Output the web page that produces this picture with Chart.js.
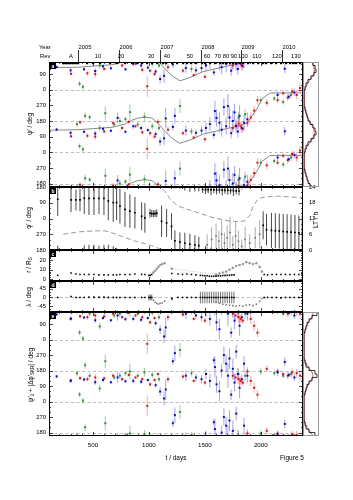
<!DOCTYPE html>
<html><head><meta charset="utf-8">
<script src="https://cdn.jsdelivr.net/npm/chart.js@4.4.1/dist/chart.umd.min.js"></script>
<style>
html,body{margin:0;padding:0;background:#fff}
#wrap{position:relative;width:353px;height:500px;overflow:hidden}
#wrap canvas{position:absolute;left:0;top:0}
</style></head><body>
<div id="wrap">
<canvas id="cA" width="353" height="500"></canvas>
<canvas id="cB" width="353" height="500"></canvas>
<canvas id="cC" width="353" height="500"></canvas>
<canvas id="cD" width="353" height="500"></canvas>
<canvas id="cE" width="353" height="500"></canvas>
<canvas id="cHA" width="353" height="500"></canvas>
<canvas id="cHE" width="353" height="500"></canvas>
</div>
<script>
// ---- data (t in days) ----
const yearDays = [366, 731, 1096, 1461, 1827, 2192];
const yearLbls = ['2005', '2006', '2007', '2008', '2009', '2010'];
const revDays = [304, 545, 750, 1018, 1161, 1366, 1518, 1616, 1688, 1759, 1839, 1964, 2143, 2313];
const revLbls = ['A', '10', '20', '30', '40', '50', '60', '70', '80', '90', '100', '110', '120', '130'];
const orbitDays = [232,245,258,272,285,298,312,325,340,355,370,444,503,562,652,711,785,845,890,934,979,1024,1068,1127,1157,1202,1247,1306,1336,1380,1425,1470,1499,1544,1588,1633,1662,1693,1722,1752,1782,1811,1841,1885,1930,1975,2019,2050,2094,2139,2183,2228,2257,2287,2317,2347];

// panel a / e : blue, red, green events
const tB = [175,300,420,520,590,660,720,790,860,930,990,1060,1100,1135,1150,1214,1232,1330,1420,1470,1510,1545,1580,1590,1604,1630,1650,1670,1690,1706,1720,1735,1750,1765,1780,1795,1810,1830,1850,1880,2150,2214,2250,2300];
const aB = [131,112,118,108,135,124,198,118,150,140,128,105,62,80,195,146,210,125,112,125,140,162,100,237,198,170,130,260,150,266,200,110,180,230,150,120,210,140,170,190,330,121,320,345];
const errB = [10,12,10,15,12,8,30,10,15,12,10,15,25,40,60,20,45,30,20,25,30,40,20,60,50,60,40,50,50,70,60,30,60,50,40,35,60,30,45,40,20,25,15,20];
const eB = [146,120,128,112,125,112,140,118,120,115,125,95,58,18,70,234,281,150,140,130,160,120,240,200,100,60,180,270,220,150,250,40,190,110,290,160,80,130,220,150,170,230,155,140];

const tR = [304,384,450,520,600,680,760,820,880,940,985,1010,1050,1080,1170,1304,1400,1500,1750,1775,1800,1820,1840,1880,1910,1940,1970,2053,2150,2200,2240,2280,2320,2350];
const aR = [92,173,95,90,120,168,140,175,150,115,20,110,90,175,130,110,85,75,140,155,165,150,135,170,200,240,300,285,300,340,315,350,330,370];
const errR = [10,12,15,20,10,15,12,10,10,15,60,15,10,15,20,15,10,15,25,25,30,25,20,25,30,30,25,20,15,15,20,20,25,30];
const eR = [123,135,130,140,135,150,130,155,140,130,335,100,125,160,130,145,120,110,150,140,130,120,110,175,120,80,40,190,175,160,150,170,165,150];

const tG = [357,380,410,430,470,560,610,690,740,790,830,900,960,1030,1090,1277,1380,1800,1860,2000,2120,2200,2270];
const aG = [162,35,17,210,202,140,225,160,180,191,231,160,205,150,140,266,120,200,220,300,310,290,330];
const errG = [15,15,15,20,15,20,40,15,20,15,45,15,25,20,15,40,20,30,30,20,15,15,20];
const eG = [164,41,6,211,150,76,234,140,150,165,175,150,170,155,130,300,165,160,150,175,165,150,160];

const modelT = [107,366,670,786,848,902,964,1027,1080,1143,1205,1277,1366,1482,1786,1875,1964,2009,2080,2200,2377];
const modelPsi = [127,130,144,162,185,197,202,197,168,121,81,52,70,104,150,168,249,306,341,342,342];

// panel b : phase phi' and local time
const phiT = [185,304,348,384,422,464,509,554,598,637,681,711,741,786,830,875,935,964,1010,1025,1040,1055,1070,1113,1158,1202,1232,1277,1321,1366,1411,1446,1480,1505,1530,1555,1580,1605,1630,1655,1680,1705,1730,1755,1780,1805,2021,2051,2095,2130,2165,2200,2235,2270,2305,2340,2370];
const phiV = [110,106,106,106,116,115,115,115,115,100,91,91,71,52,42,33,13,4,30,28,27,28,30,-16,-25,-45,-128,-135,-141,-147,-151,-155,166,165,165,164,164,163,163,162,161,161,160,159,158,157,-39,-64,-68,-70,-72,-74,-76,-78,-80,-82,-83];
const phiE = [95,70,60,65,90,95,95,90,95,110,110,100,100,100,95,90,80,85,25,20,20,20,22,90,80,75,60,55,60,60,55,50,20,25,20,30,20,25,20,30,20,25,20,30,20,25,80,90,100,100,100,100,100,100,100,100,100];
const phi2T = [1520,1560,1600,1625,1650,1675,1700,1725,1750,1775,1800,1830,1860,1900,1950,1990];
const phi2V = [-150,-120,-100,-130,-90,-140,-110,-80,-150,-100,-130,-160,-120,-140,-110,-90];
const phi2E = [60,70,70,60,80,60,70,90,50,80,60,40,70,50,60,80];
const ltT = [235,369,518,607,667,756,875,964,1054,1098,1143,1202,1262,1411,1560,1708,1798,1857,1902,1931,1976,2036,2155,2274,2377];
const ltH = [6.0,6.9,7.3,7.3,6.6,5.2,3.4,2.4,1.3,0.3,-1.7,-5.2,-7.3,-9.4,-11.5,-12.9,-13.2,-12.9,-10.8,-7.3,-4.5,-3.8,-3.5,-3.8,-4.2];

// panels c / d : r and latitude
const mT = [185,304,348,384,422,464,509,554,598,637,681,711,741,786,830,875,935,964,1000,1012,1025,1205,1260,1300,1340,1380,1420,1460,1480,1500,1520,1540,1560,1580,1600,1620,1640,1660,1680,1700,1720,1740,1760,2030,2060,2100,2140,2180,2220,2260,2300,2340,2370];
const mR = [4,6.5,5.5,5,5,5,5,4.5,4.5,4.5,4.5,4.5,5,5,5,5.5,5,5,4,4,5,6,5.5,5,5.5,5,4.5,4,3.8,3.5,3.5,3.2,3,3,3.2,3.5,3.5,3.8,4,4,4.2,4.5,4.5,5,4.5,5,5,5,5,5,5,5,5];
const mLat = [0,5,0,0,0,1,1,1,1,0,0,0,0,0,0,0,0,0,0,0,0,-5,0,0,0,0,0,0,0,0,0,0,0,0,0,0,0,0,0,0,0,0,0,0,0,0,0,-2,0,0,0,0,0];
const mLatE = [3,3,3,3,3,6,6,6,6,6,4,3,3,3,3,3,3,3,15,15,15,5,3,3,3,3,3,30,30,30,30,30,30,30,30,30,30,30,30,30,30,30,30,3,3,3,3,3,3,3,3,3,3];
const xT = [1040,1055,1070,1085,1100,1120,1140,1205,1600,1630,1660,1690,1720,1750,1780,1810,1840,1870,1900,1930,1960,1990,2010];
const xR = [7,9,11,13,15,16,17,11,5,6,7,8,10,12,14,15,16,18,17,16,17,13,8];
const xLat = [-15,-25,-30,-35,-30,-28,-20,-10,-25,-30,-35,-38,-40,-42,-45,-42,-45,-40,-38,-42,-35,-20,-5];

// side histograms (deg bins)
const binEdges = [0,20,40,60,80,100,120,140,160,180,200,220,240,260,280,300,320,340,360];
const histA = [2,3,5,8,11,13,12,10,7,5,4,3,2,1,1,1,1,1];
const fitA = [2.5,4,6,8.5,10.5,11.5,11,9.5,7.5,5.5,4,3,2,1.5,1,1,1.2,1.8];
const histE = [1,1,2,3,4,6,9,14,12,6,3,2,1,1,1,1,1,1];
const fitE = [1,1.5,2,3,4.5,6.5,9,10,9,6.5,4,2.5,1.5,1,1,1,1,1];

// ---- helpers ----
const FONT = "'Liberation Sans', Arial, sans-serif";
const T0 = 107, T1 = 2377;
const W3 = [-360, 0, 360];
Chart.defaults.font.family = FONT;
Chart.defaults.font.size = 5.8;
Chart.defaults.color = '#000';

const pts = (ts, vs, offs) => offs.flatMap(o => ts.map((t, i) => ({x: t, y: vs[i] + o})));
const bars = (ts, vs, es, offs) => offs.flatMap(o => ts.flatMap((t, i) => [{x: t, y: vs[i] - es[i] + o}, {x: t, y: vs[i] + es[i] + o}, {x: t, y: null}]));
const curve = (ts, vs, offs) => offs.flatMap(o => ts.map((t, i) => ({x: t, y: vs[i] + o})).concat([{x: ts[ts.length - 1], y: null}]));
const steps = (counts, offs) => offs.flatMap(o => counts.flatMap((c, i) => [{x: c, y: binEdges[i] + o}, {x: c, y: binEdges[i + 1] + o}]));
const mids = (vals, offs) => offs.flatMap(o => vals.map((v, i) => ({x: v, y: (binEdges[i] + binEdges[i + 1]) / 2 + o})));

const dot = (data, color, r = 1.4) => ({data, pointStyle: 'rect', pointRadius: r, backgroundColor: color, borderWidth: 0, showLine: false, order: 0});
const line = (data, color, w = 1, dash = []) => ({data, showLine: true, borderColor: color, borderWidth: w, borderDash: dash, pointRadius: 0, order: 1, spanGaps: false});

const zeroPad = s => { s.paddingTop = s.paddingBottom = s.paddingLeft = s.paddingRight = 0; };
const mod360 = v => String(((v % 360) + 360) % 360);

function yAxis(min, max, ticks, fmt) {
  return {type: 'linear', min, max, position: 'left',
    grid: {display: false, drawTicks: false}, border: {display: false},
    afterBuildTicks: s => { s.ticks = ticks.map(v => ({value: v})); },
    ticks: {padding: 3, autoSkip: false, callback: fmt || (v => String(v))},
    afterFit: s => { s.width = 16; zeroPad(s); }};
}
const hiddenX = () => ({type: 'linear', min: T0, max: T1, display: false});

function tickMarks(ctx, s, a, t, horiz, side) {
  const [minor, major] = t;
  for (let v = Math.ceil(s.min / minor - 1e-9) * minor; v <= s.max + 1e-9; v += minor) {
    const p = Math.round(s.getPixelForValue(v)) + 0.5;
    const L = Math.abs(v / major - Math.round(v / major)) < 1e-6 ? 4 : 2;
    ctx.beginPath();
    if (horiz) { ctx.moveTo(p, a.bottom); ctx.lineTo(p, a.bottom - L); ctx.moveTo(p, a.top); ctx.lineTo(p, a.top + L); }
    else {
      if (side !== 'right') { ctx.moveTo(a.left, p); ctx.lineTo(a.left + L, p); }
      if (side !== 'left') { ctx.moveTo(a.right, p); ctx.lineTo(a.right - L, p); }
    }
    ctx.stroke();
  }
}

function rich(ctx, t) {
  ctx.save();
  ctx.translate(t.x, t.y);
  if (t.rot) ctx.rotate(t.rot);
  ctx.fillStyle = '#000'; ctx.textBaseline = 'middle'; ctx.textAlign = 'left';
  const segs = t.segs || [{s: t.s}];
  let w = 0;
  segs.forEach(g => { ctx.font = `${g.size || t.size}px ${FONT}`; g.w = ctx.measureText(g.s).width; w += g.w; });
  let x = t.align === 'left' ? 0 : t.align === 'right' ? -w : -w / 2;
  segs.forEach(g => { ctx.font = `${g.size || t.size}px ${FONT}`; ctx.fillText(g.s, x, g.dy || 0); x += g.w; });
  ctx.restore();
}

const deco = {
  id: 'deco',
  beforeDatasetsDraw(chart, args, o) {
    if (!o.hLines) return;
    const {ctx, chartArea: a} = chart, ys = chart.scales.y;
    ctx.save();
    ctx.strokeStyle = '#aaaaaa'; ctx.lineWidth = 0.8; ctx.setLineDash([3, 2.5]);
    o.hLines.forEach(v => {
      const y = Math.round(ys.getPixelForValue(v)) + 0.5;
      if (y < a.top || y > a.bottom) return;
      ctx.beginPath(); ctx.moveTo(a.left, y); ctx.lineTo(a.right, y); ctx.stroke();
    });
    ctx.restore();
  },
  afterDatasetsDraw(chart, args, o) {
    const {ctx, chartArea: a} = chart;
    if (!o.frame) return;
    ctx.save();
    ctx.strokeStyle = o.frame; ctx.lineWidth = 1;
    ctx.strokeRect(a.left + 0.5, a.top + 0.5, a.width - 1, a.height - 1);
    ctx.strokeStyle = '#000'; ctx.lineWidth = 0.7;
    if (o.xt) tickMarks(ctx, chart.scales.x, a, o.xt, true);
    if (o.yt) tickMarks(ctx, chart.scales.y, a, o.yt, false, o.y2t ? 'left' : 'both');
    if (o.y2t) tickMarks(ctx, chart.scales.y2, a, o.y2t, false, 'right');
    if (o.letter) {
      ctx.fillStyle = '#000'; ctx.fillRect(a.left + 1, a.top + 1, 6, 6);
      ctx.fillStyle = '#fff'; ctx.font = `bold 5px ${FONT}`; ctx.textAlign = 'center'; ctx.textBaseline = 'middle';
      ctx.fillText(o.letter, a.left + 4, a.top + 4.2);
    }
    if (o.top) {
      const xs = chart.scales.x;
      ctx.fillStyle = '#000'; ctx.font = `5.8px ${FONT}`; ctx.textBaseline = 'middle'; ctx.textAlign = 'left';
      ctx.fillText('Year', 39, 47); ctx.fillText('Rev', 40, 56);
      ctx.lineWidth = 0.8;
      yearDays.forEach((d, i) => {
        const p = Math.round(xs.getPixelForValue(d)) + 0.5;
        ctx.beginPath(); ctx.moveTo(p, 50); ctx.lineTo(p, a.top); ctx.stroke();
        ctx.fillText(yearLbls[i], p, 47);
      });
      ctx.textAlign = 'center';
      revDays.forEach((d, i) => ctx.fillText(revLbls[i], xs.getPixelForValue(d), 56));
      orbitDays.forEach(d => ctx.fillRect(Math.round(xs.getPixelForValue(d)) - 1, a.top, 2.2, 2.2));
    }
    (o.texts || []).forEach(t => rich(ctx, t));
    ctx.restore();
  }
};
Chart.register(deco);

function make(id, area, scales, datasets, d) {
  const yw = scales.y.display === false ? 0 : 16;
  const y2w = scales.y2 ? 14 : 0;
  const xh = scales.x.display === false ? 0 : 20;
  return new Chart(document.getElementById(id), {
    type: 'scatter',
    data: {datasets},
    options: {
      responsive: false, animation: false, events: [],
      layout: {padding: {left: area.l - yw, right: 353 - area.r - y2w, top: area.t, bottom: 500 - area.b - xh}},
      plugins: {legend: {display: false}, tooltip: {enabled: false}, deco: d},
      scales
    }
  });
}

const BLUE = '#0000ff', BLUE_E = 'rgba(100,100,255,0.6)';
const RED = '#ff0000', RED_E = 'rgba(255,110,110,0.6)';
const GRN = '#2f8f2f', GRN_E = 'rgba(110,180,110,0.65)';
const psiTicks = [-180, -90, 0, 90, 180, 270, 360, 450];
const psiLines = [-180, 0, 180, 360];

function psiSets(vb, vr, vg, withModel) {
  const s = [
    dot(pts(tB, vb, W3), BLUE), dot(pts(tR, vr, W3), RED), dot(pts(tG, vg, W3), GRN),
    line(bars(tB, vb, errB, W3), BLUE_E), line(bars(tR, vr, errR, W3), RED_E), line(bars(tG, vg, errG, W3), GRN_E)
  ];
  if (withModel) s.push(line(curve(modelT, modelPsi, W3), '#888888', 1));
  return s;
}

// ---- panel a ----
make('cA', {l: 49, r: 303, t: 62, b: 187},
  {x: hiddenX(), y: yAxis(-200, 520, psiTicks, mod360)},
  psiSets(aB, aR, aG, true),
  {frame: '#000', xt: [100, 500], yt: [30, 90], letter: 'a', hLines: psiLines, top: true,
   texts: [{x: 30, y: 124, rot: -Math.PI / 2, size: 6.5, s: "ψ' / deg"}]});

// ---- panel b ----
make('cB', {l: 49, r: 303, t: 187, b: 250},
  {x: hiddenX(), y: yAxis(-180, 180, [-180, -90, 0, 90, 180], mod360),
   y2: {type: 'linear', min: 0, max: 24, position: 'right', grid: {display: false, drawTicks: false}, border: {display: false},
        afterBuildTicks: s => { s.ticks = [0, 6, 12, 18, 24].map(v => ({value: v})); },
        ticks: {padding: 6, autoSkip: false}, afterFit: s => { s.width = 14; zeroPad(s); }}},
  [
    dot(pts(phiT, phiV, W3), '#000', 1.2),
    dot(pts(phi2T, phi2V, W3), '#666', 1.1),
    line(bars(phiT, phiV, phiE, W3), 'rgba(0,0,0,0.72)', 1),
    line(bars(phi2T, phi2V, phi2E, W3), 'rgba(90,90,90,0.5)', 1),
    Object.assign(line(curve(ltT, ltH, [0, 24]), '#999999', 1, [5, 3]), {yAxisID: 'y2'})
  ],
  {frame: '#000', xt: [100, 500], yt: [30, 90], y2t: [2, 6], letter: 'b',
   texts: [{x: 29, y: 218, rot: -Math.PI / 2, size: 6.5, s: "φ' / deg"},
           {x: 316, y: 220, rot: -Math.PI / 2, size: 6.5, s: 'LT / h'}]});

// ---- panel c ----
make('cC', {l: 49, r: 303, t: 250, b: 281},
  {x: hiddenX(), y: yAxis(-2, 31, [0, 10, 20])},
  [dot(mT.map((t, i) => ({x: t, y: mR[i]})), '#000', 1.1),
   Object.assign(dot(xT.map((t, i) => ({x: t, y: xR[i]})), '#777', 1.1), {showLine: true, borderColor: '#999', borderWidth: 0.6, borderDash: [1, 1.5]})],
  {frame: '#000', xt: [100, 500], yt: [2, 10], letter: 'c',
   texts: [{x: 29, y: 265, rot: -Math.PI / 2, size: 6.5, segs: [{s: 'r / R'}, {s: 'S', size: 4.5, dy: 1.5}]}]});

// ---- panel d ----
make('cD', {l: 49, r: 303, t: 281, b: 312},
  {x: hiddenX(), y: yAxis(-75, 85, [-45, 0, 45])},
  [dot(mT.map((t, i) => ({x: t, y: mLat[i]})), '#000', 1.1),
   dot(xT.map((t, i) => ({x: t, y: xLat[i]})), '#777', 1.1),
   line(bars(mT, mLat, mLatE, [0]), 'rgba(0,0,0,0.55)', 1)],
  {frame: '#000', xt: [100, 500], yt: [15, 45], letter: 'd', hLines: [0],
   texts: [{x: 29, y: 297, rot: -Math.PI / 2, size: 6.5, s: 'λ / deg'}]});

// ---- panel e ----
make('cE', {l: 49, r: 303, t: 312, b: 436},
  {x: {type: 'linear', min: T0, max: T1, position: 'bottom', grid: {display: false, drawTicks: false}, border: {display: false},
       afterBuildTicks: s => { s.ticks = [500, 1000, 1500, 2000].map(v => ({value: v})); },
       ticks: {padding: 6, autoSkip: false, maxRotation: 0, font: {size: 6.2}, callback: v => String(v)},
       afterFit: s => { s.height = 20; zeroPad(s); }},
   y: yAxis(-200, 520, psiTicks, mod360)},
  psiSets(eB, eR, eG, false),
  {frame: '#000', xt: [100, 500], yt: [30, 90], letter: 'e', hLines: psiLines,
   texts: [{x: 31, y: 375, rot: -Math.PI / 2, size: 6.5,
            segs: [{s: "ψ'"}, {s: '1', size: 4.5, dy: 1.5}, {s: " + |Δφ'"}, {s: 'SKR', size: 4.5, dy: 1.5}, {s: '| / deg'}]},
           {x: 176, y: 458, size: 6.5, s: 't / days'},
           {x: 292, y: 458, size: 6.5, s: 'Figure 5'}]});

// ---- side histograms ----
function side(id, area, counts, fit) {
  make(id, area,
    {x: {type: 'linear', min: 0, max: 16, display: false}, y: {type: 'linear', min: -200, max: 520, display: false}},
    [line(steps(counts, W3), '#000', 0.8), line(mids(fit, W3), '#ff3030', 0.8)],
    {frame: '#9a9a9a'});
}
side('cHA', {l: 303, r: 319, t: 62, b: 187}, histA, fitA);
side('cHE', {l: 303, r: 319, t: 312, b: 436}, histE, fitE);
</script>
</body></html>
